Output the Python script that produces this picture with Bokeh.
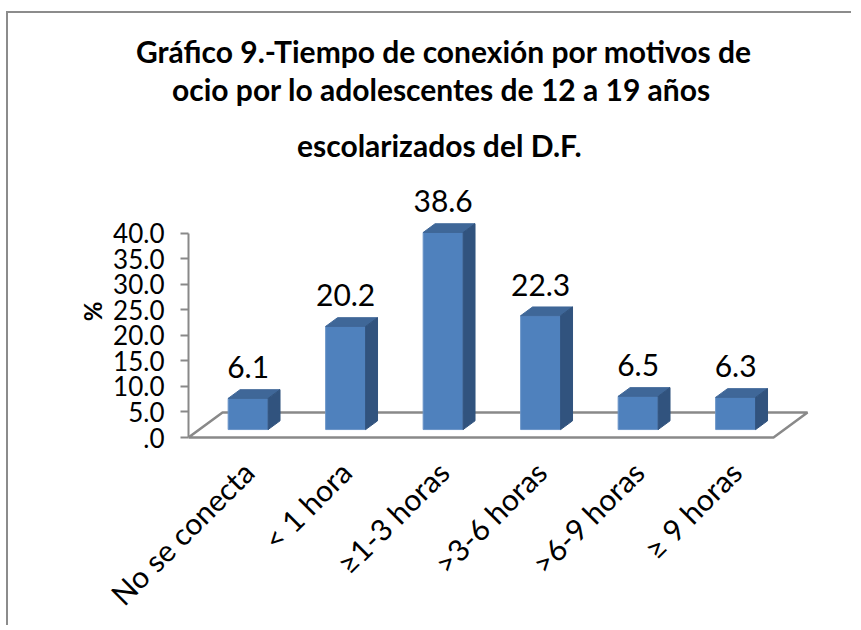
import math
from bokeh.plotting import figure
from bokeh.models import Range1d, FixedTicker, LabelSet, ColumnDataSource, Title
from bokeh.core.properties import value
from bokeh.embed import file_html
from bokeh.resources import INLINE

# ---- data ----
categories = ["No se conecta", "< 1 hora", "≥1-3 horas", ">3-6 horas", ">6-9 horas", "≥ 9 horas"]
values = [6.1, 20.2, 38.6, 22.3, 6.5, 6.3]
value_labels = ["6.1", "20.2", "38.6", "22.3", "6.5", "6.3"]
y_ticks = [0, 5, 10, 15, 20, 25, 30, 35, 40]
y_tick_labels = [".0", "5.0", "10.0", "15.0", "20.0", "25.0", "30.0", "35.0", "40.0"]
title_lines = [
    "Gráfico 9.-Tiempo de conexión por motivos de",
    "ocio por lo adolescentes de 12 a 19 años",
    "escolarizados del D.F.",
]
y_label = "%"

# ---- layout / style ----
W, H = 845, 614
FL, FR, FT, FB = 180, 807, 167, 430   # frame edges in canvas px
PXX, PXY = 97.5, 5.125                # px per category / per y unit
Y0_PX = 425                           # canvas y of value 0
DX, DY = 34 / PXX, 25 / PXY           # depth vector in data units
F0, F1 = 0.32, 0.67                   # bar depth (front / back)
BW = 0.41                             # bar width
FONT = "Lato"
GRAY = "#898989"
TITLE_CENTER = 432                    # canvas x of the title centre
TITLE_WIDTHS = [609, 537, 287]        # approx rendered widths (px) at 30px
TITLE_STANDOFFS = [0, 0, 36]

y_start = -(FB - Y0_PX) / PXY
y_end = (Y0_PX - FT) / PXY
x_end = (FR - FL) / PXX

p = figure(width=W, height=H, output_backend="svg", toolbar_location=None,
           x_range=Range1d(0, x_end), y_range=Range1d(y_start, y_end),
           min_border_left=FL, min_border_right=W - FR,
           min_border_top=FT, min_border_bottom=H - FB)
p.styles = {"margin-left": "6px", "margin-top": "11px",
            "border-left": "2px solid #8c8c8c", "border-top": "2px solid #8c8c8c"}
p.outline_line_color = None
p.xgrid.visible = False
p.ygrid.visible = False
p.background_fill_color = "white"
p.border_fill_color = "white"

n = len(values)
# floor
p.patch([0, n, n + DX, DX], [0, 0, DY, DY], fill_color="white",
        line_color=GRAY, line_width=2.5)

# bars
fx, fy, tx, ty, sx, sy = [], [], [], [], [], []
cx = []
ytop = []
for i, v in enumerate(values):
    c = i + 0.5 + F0 * DX
    cx.append(c)
    x0, x1 = c - BW / 2, c + BW / 2
    b = F0 * DY
    t = b + v
    ytop.append(t)
    ddx, ddy = (F1 - F0) * DX, (F1 - F0) * DY
    fx.append([x0, x1, x1, x0]); fy.append([b, b, t, t])
    tx.append([x0, x1, x1 + ddx, x0 + ddx]); ty.append([t, t, t + ddy, t + ddy])
    sx.append([x1, x1 + ddx, x1 + ddx, x1]); sy.append([b, b + ddy, t + ddy, t])

p.patches(fx, fy, fill_color="#4F81BD", line_color="#6A94C8", line_width=1)
p.patches(tx, ty, fill_color="#3F6798", line_color="#3F6798", line_width=1)
p.patches(sx, sy, fill_color="#31537E", line_color="#31537E", line_width=1)

src = ColumnDataSource(dict(x=cx, y=ytop, t=value_labels))
p.add_layout(LabelSet(x="x", y="y", text="t", source=src, text_align="center",
                      text_baseline="alphabetic", y_offset=20,
                      text_font=value(FONT), text_font_size=value("30px"),
                      text_color="black"))

# y axis
ya = p.yaxis[0]
ya.ticker = FixedTicker(ticks=y_ticks)
ya.major_label_overrides = {t: l for t, l in zip(y_ticks, y_tick_labels)}
ya.bounds = (0, max(y_ticks))
ya.axis_line_color = GRAY
ya.axis_line_width = 2
ya.major_tick_line_color = GRAY
ya.major_tick_line_width = 2
ya.major_tick_out = 8
ya.major_tick_in = 0
ya.minor_tick_line_color = None
ya.major_label_standoff = 16
ya.major_label_text_font = FONT
ya.major_label_text_font_size = "26px"
ya.major_label_text_color = "black"
ya.axis_label = y_label
ya.axis_label_text_font = FONT
ya.axis_label_text_font_size = "24px"
ya.axis_label_text_font_style = "bold"
ya.axis_label_text_color = "black"
ya.axis_label_standoff = 3

# x axis
xa = p.xaxis[0]
xt = [round(c, 6) for c in cx]
xa.ticker = FixedTicker(ticks=xt)
xa.major_label_overrides = {t: l for t, l in zip(xt, categories)}
xa.major_label_orientation = math.pi / 4
xa.axis_line_color = None
xa.major_tick_line_color = None
xa.minor_tick_line_color = None
xa.major_label_standoff = 18
xa.major_label_text_font = FONT
xa.major_label_text_font_size = "30px"
xa.major_label_text_color = "black"

# title: three centred lines, nearest-to-plot first
for line, w, so in reversed(list(zip(title_lines, TITLE_WIDTHS, TITLE_STANDOFFS))):
    p.add_layout(Title(text=line, align="left", offset=TITLE_CENTER - FL - w / 2,
                       standoff=so, text_font=FONT, text_font_size="30px",
                       text_font_style="bold", text_color="black"), "above")

open("out.html", "w").write(file_html(p, INLINE))
